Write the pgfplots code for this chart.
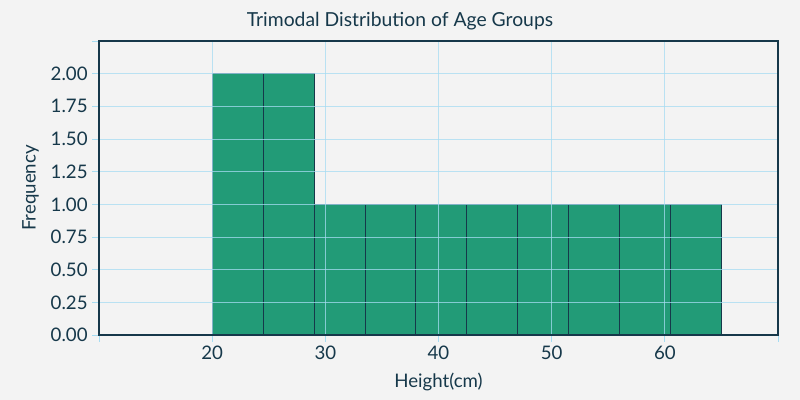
\documentclass[border=0pt]{standalone}
\usepackage{pgfplots}
\pgfplotsset{compat=1.18}
\usepackage{fontspec}
\setmainfont{Lato}

\definecolor{bg}{HTML}{F3F3F3}
\definecolor{barfill}{HTML}{229B77}
\definecolor{navy}{HTML}{16384A}
\definecolor{gridblue}{HTML}{A6DCF2}

\begin{document}
\begin{tikzpicture}
  % page is 800x400 px, 1px = 0.75pt
  \fill[bg] (0,0) rectangle (600pt,300pt);
  \path[use as bounding box] (0,0) rectangle (600pt,300pt);
  \node[text=navy, font=\fontsize{14.5}{16}\selectfont] at (300pt,284pt) {Trimodal Distribution of Age Groups};
  \begin{axis}[
      at={(74.25pt,48.75pt)}, anchor=south west,
      scale only axis, width=509.25pt, height=220.5pt,
      xmin=10, xmax=70, ymin=0, ymax=2.25,
      xtick={10,20,...,70},
      xticklabels={,20,30,40,50,60,},
      ytick={0,0.25,...,2.25},
      yticklabels={0.00,0.25,0.50,0.75,1.00,1.25,1.50,1.75,2.00,},
      tick align=outside, tickpos=left,
      major tick length=5pt,
      tick style={gridblue, line width=0.6pt},
      grid=major,
      grid style={gridblue, line width=0.6pt, opacity=0.75},
      axis on top,
      axis line style={navy, line width=1.1pt},
      ticklabel style={text=navy, font=\fontsize{14}{16}\selectfont},
      xlabel={Height(cm)}, ylabel={Frequency},
      label style={text=navy, font=\fontsize{14}{16}\selectfont},
      xlabel style={yshift=-3pt},
      ylabel style={yshift=2pt},
      /pgf/number format/assume math mode=true,
    ]
    \addplot[ybar interval, fill=barfill, draw=navy, line width=0.6pt] coordinates {
      (20,2) (24.5,2) (29,1) (33.5,1) (38,1) (42.5,1) (47,1) (51.5,1) (56,1) (60.5,1) (65,1)
    };
  \end{axis}
\end{tikzpicture}
\end{document}
